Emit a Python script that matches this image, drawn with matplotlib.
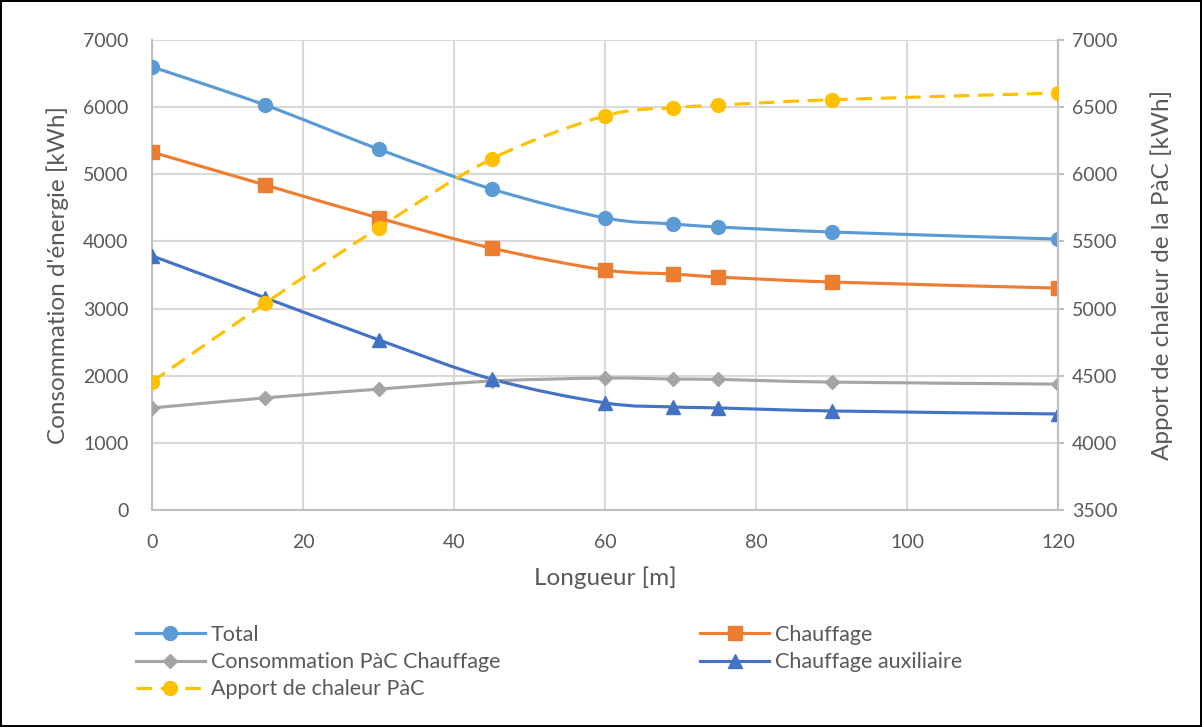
import matplotlib
matplotlib.use("Agg")
import matplotlib.pyplot as plt
from matplotlib.path import Path
from matplotlib.patches import PathPatch
from matplotlib.lines import Line2D
import numpy as np

plt.rcParams['font.family'] = ['Lato', 'DejaVu Sans']

longueur = [0, 15, 30, 45, 60, 69, 75, 90, 120]
total = [6600, 6030, 5375, 4780, 4350, 4260, 4215, 4140, 4035]
chauffage = [5330, 4840, 4350, 3900, 3575, 3515, 3470, 3395, 3305]
conso_pac = [1520, 1670, 1800, 1920, 1965, 1950, 1945, 1905, 1875]
chauffage_aux = [3785, 3160, 2535, 1950, 1595, 1535, 1520, 1475, 1430]
apport_pac = [4455, 5040, 5600, 6115, 6435, 6495, 6515, 6555, 6605]

left_ticks = list(range(0, 7001, 1000))
right_ticks = list(range(3500, 7001, 500))
x_ticks = list(range(0, 121, 20))

blue_l = '#5B9BD5'
orange = '#ED7D31'
grey = '#A5A5A5'
blue_d = '#4472C4'
yellow = '#FFC000'
txt = '#595959'


def smooth_path(x, y):
    # Excel-style smoothed line: cubic Bezier through every point
    p = np.column_stack([x, y]).astype(float)
    n = len(p)
    verts = [p[0]]
    codes = [Path.MOVETO]
    for i in range(n - 1):
        p0 = p[i - 1] if i > 0 else p[i]
        p1 = p[i]
        p2 = p[i + 1]
        p3 = p[i + 2] if i + 2 < n else p[i + 1]
        c1 = p1 + (p2 - p0) / 6.0
        c2 = p2 - (p3 - p1) / 6.0
        verts += [c1, c2, p2]
        codes += [Path.CURVE4] * 3
    return Path(verts, codes)


def draw(ax, x, y, color, marker, ms, ls='-'):
    patch = PathPatch(smooth_path(x, y), fill=False, edgecolor=color,
                      linewidth=2.25, linestyle=ls, capstyle='butt',
                      transform=ax.transData, zorder=3)
    ax.add_patch(patch)
    ax.plot(x, y, linestyle='none', marker=marker, markersize=ms,
            color=color, zorder=4)


fig = plt.figure(figsize=(12.02, 7.27), dpi=100)
fig.patch.set_edgecolor('black')
fig.patch.set_linewidth(1.5)
ax = fig.add_axes([0.1265, 0.2985, 0.7537, 0.6465])
ax2 = ax.twinx()

dash = (0, (5, 2.8))
draw(ax, longueur, total, blue_l, 'o', 10)
draw(ax, longueur, chauffage, orange, 's', 9.5)
draw(ax, longueur, conso_pac, grey, 'D', 7)
draw(ax, longueur, chauffage_aux, blue_d, '^', 9.5)
draw(ax2, longueur, apport_pac, yellow, 'o', 10, ls=dash)

ax.set_xlim(0, 120)
ax.set_ylim(0, 7000)
ax2.set_ylim(3500, 7000)
ax.set_xticks(x_ticks)
ax.set_yticks(left_ticks)
ax2.set_yticks(right_ticks)

ax.grid(True, color='#D9D9D9', linewidth=1.5)
ax.set_axisbelow(True)
ax.spines['top'].set_visible(False)
ax2.spines['top'].set_visible(False)
ax2.spines['left'].set_visible(False)
ax2.spines['bottom'].set_visible(False)
ax.spines['right'].set_visible(False)
for s in ['left', 'bottom']:
    ax.spines[s].set_color('#BFBFBF')
    ax.spines[s].set_linewidth(1.5)
ax2.spines['right'].set_color('#BFBFBF')
ax2.spines['right'].set_linewidth(1.5)

ax.tick_params(axis='y', length=0, pad=17, labelsize=14, labelcolor=txt)
ax.tick_params(axis='x', length=0, pad=17, labelsize=14, labelcolor=txt)
ax2.tick_params(axis='y', length=4, width=1.5, color='#BFBFBF', pad=6,
                labelsize=14, labelcolor=txt)

ax.set_xlabel('Longueur [m]', fontsize=17.5, color=txt, labelpad=11)
ax.set_ylabel("Consommation d'énergie [kWh]", fontsize=17.5, color=txt, labelpad=10)
ax2.set_ylabel('Apport de chaleur de la PàC [kWh]', fontsize=17.5, color=txt, labelpad=24)

h_total = Line2D([], [], color=blue_l, lw=2.25, marker='o', ms=10)
h_ch = Line2D([], [], color=orange, lw=2.25, marker='s', ms=9.5)
h_conso = Line2D([], [], color=grey, lw=2.25, marker='D', ms=7)
h_aux = Line2D([], [], color=blue_d, lw=2.25, marker='^', ms=9.5)
h_app = Line2D([], [], color=yellow, lw=2.25, marker='o', ms=10, linestyle=dash)
handles = [h_total, h_conso, h_app, h_ch, h_aux]
labels = ['Total', 'Consommation PàC Chauffage', 'Apport de chaleur PàC',
          'Chauffage', 'Chauffage auxiliaire']
leg = fig.legend(handles, labels, ncol=2, loc='upper left',
                 bbox_to_anchor=(0.113, 0.1405), bbox_transform=fig.transFigure,
                 frameon=False, fontsize=15.5, handlelength=3.2, handletextpad=0.28,
                 labelspacing=0.34, columnspacing=9.3, numpoints=1, borderpad=0,
                 borderaxespad=0)
for t in leg.get_texts():
    t.set_color(txt)

fig.savefig('out.png', dpi=100)
